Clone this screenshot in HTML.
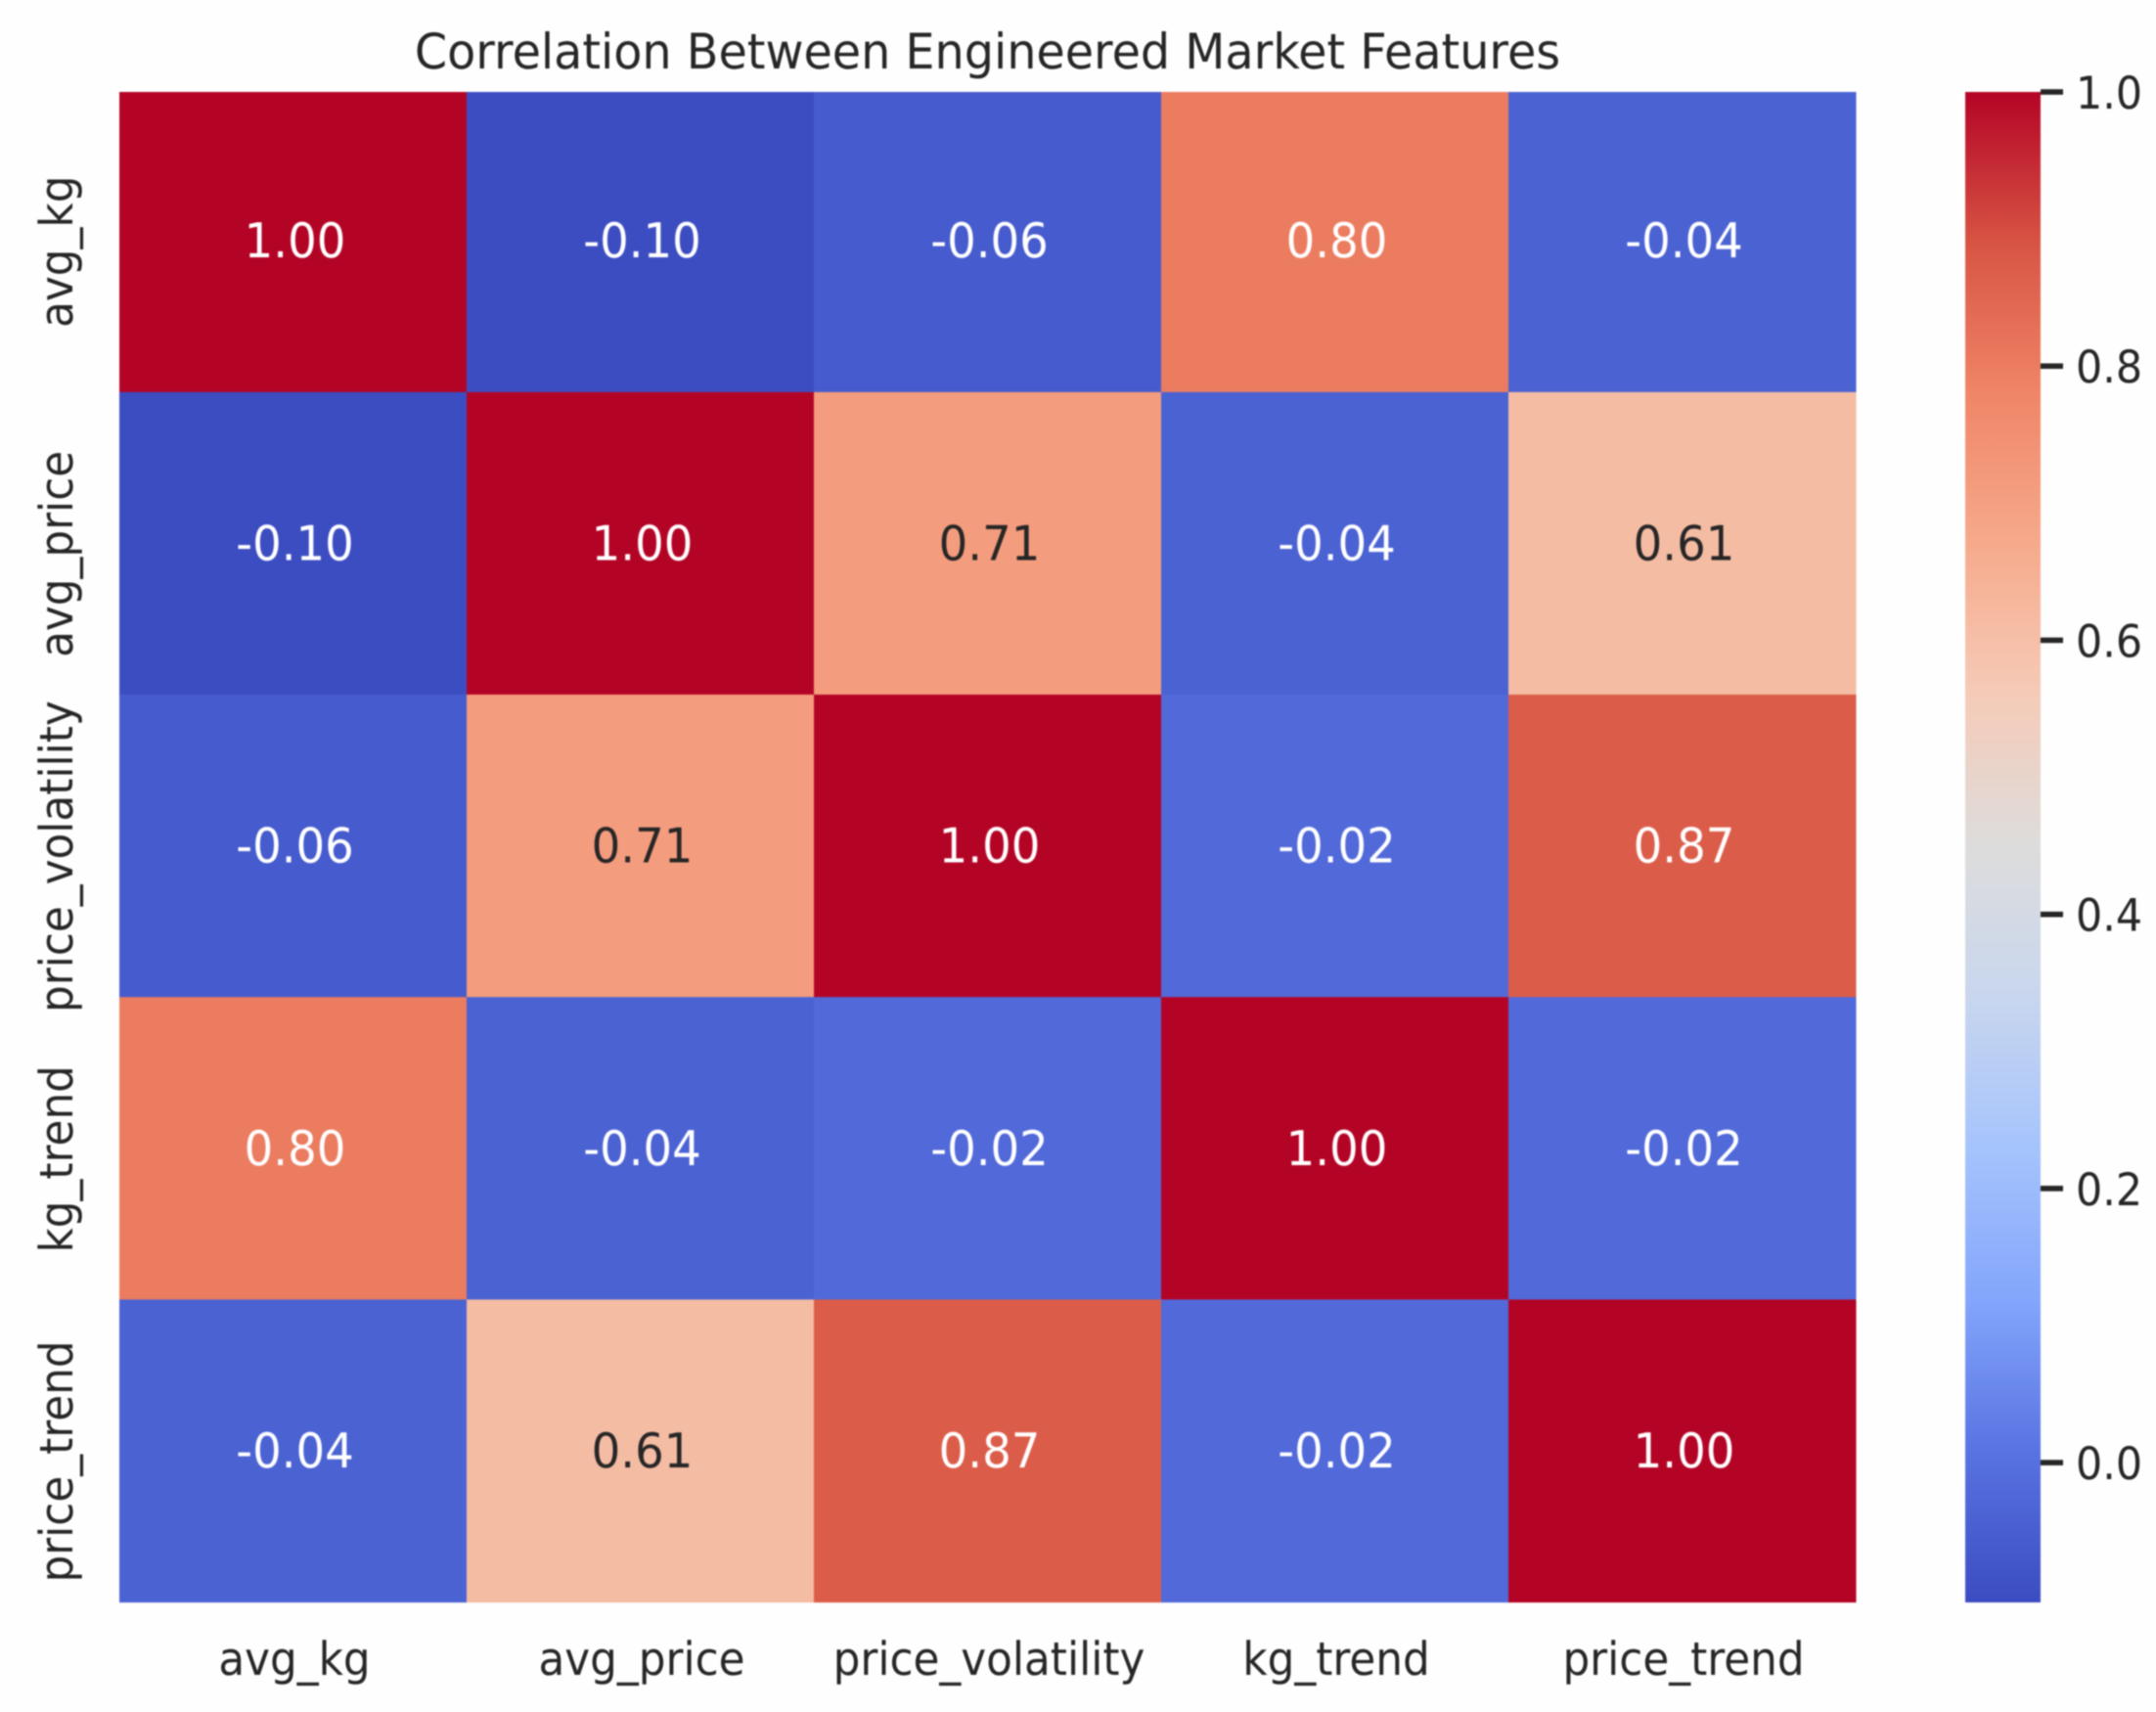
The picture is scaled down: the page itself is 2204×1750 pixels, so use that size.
<!DOCTYPE html>
<html lang="en">
<head>
<meta charset="utf-8">
<title>Correlation Between Engineered Market Features</title>
<style>
html,body{margin:0;padding:0;background:#fefefe;}
#chart{display:block;width:2204px;height:1750px;filter:blur(0.8px);}
text{font-family:"DejaVu Sans","Liberation Sans",sans-serif;fill:#262626;text-rendering:geometricPrecision;}
</style>
</head>
<body>
<svg id="chart" xmlns="http://www.w3.org/2000/svg" width="2204" height="1750" viewBox="0 0 2204 1750">
<defs id="chart-defs"></defs>
<rect x="0" y="0" width="2204" height="1750" fill="#fefefe"></rect>
<text x="0" y="0" transform="translate(1009.5 70) scale(0.953 1)" font-size="50" text-anchor="middle">Correlation Between Engineered Market Features</text>
<g id="cells"></g>
<g id="annotations"></g>
<g id="x-axis"></g>
<g id="y-axis"></g>
<g id="colorbar"></g>
</svg>
<script>
// Chart data
const categories = ["avg_kg", "avg_price", "price_volatility", "kg_trend", "price_trend"];
const rowAvgKg = [1.00, -0.10, -0.06, 0.80, -0.04];
const rowAvgPrice = [-0.10, 1.00, 0.71, -0.04, 0.61];
const rowPriceVolatility = [-0.06, 0.71, 1.00, -0.02, 0.87];
const rowKgTrend = [0.80, -0.04, -0.02, 1.00, -0.02];
const rowPriceTrend = [-0.04, 0.61, 0.87, -0.02, 1.00];
const correlationRows = [rowAvgKg, rowAvgPrice, rowPriceVolatility, rowKgTrend, rowPriceTrend];
const colorbarTicks = [0.0, 0.2, 0.4, 0.6, 0.8, 1.0];
const colorMin = -0.102;
const colorMax = 1.0;

// coolwarm colormap reference colours, evenly spaced
const coolwarm = [
  [59,76,192],[88,115,226],[131,165,251],[165,195,252],[200,214,238],
  [221,220,220],[245,203,184],[246,170,140],[240,133,103],[215,84,67],[180,4,38]
];

const NS = "http://www.w3.org/2000/svg";
const plot = {left: 122, right: 1897, top: 94, bottom: 1638, bandTop: 91.6, bandStep: 309.2};
const bar = {left: 2009, right: 2086, top: 94, bottom: 1638};
const xStep = (plot.right - plot.left) / categories.length;

function xBand(i) { return plot.left + i * xStep; }
function yBand(i) { return plot.bandTop + i * plot.bandStep; }
function xCenter(i) { return xBand(i) + xStep / 2; }
function yCenter(i) { return yBand(i) + plot.bandStep / 2; }
function norm(v) { return Math.min(1, Math.max(0, (v - colorMin) / (colorMax - colorMin))); }
function barY(v) { return bar.bottom - (v - colorMin) / (colorMax - colorMin) * (bar.bottom - bar.top); }
function colorFor(t) {
  const p = t * (coolwarm.length - 1);
  const k = Math.min(coolwarm.length - 2, Math.floor(p));
  const f = p - k;
  const c = coolwarm[k].map(function (a, n) { return Math.round(a + (coolwarm[k + 1][n] - a) * f); });
  return "rgb(" + c.join(",") + ")";
}
function make(tag, parent, props, content) {
  const el = document.createElementNS(NS, tag);
  Object.keys(props).forEach(function (key) { el.setAttribute(key, props[key]); });
  if (content !== undefined) el.textContent = content;
  parent.appendChild(el);
  return el;
}

const cellsGroup = document.getElementById("cells");
const annotationsGroup = document.getElementById("annotations");
const xAxisGroup = document.getElementById("x-axis");
const yAxisGroup = document.getElementById("y-axis");
const colorbarGroup = document.getElementById("colorbar");
const defsNode = document.getElementById("chart-defs");

correlationRows.forEach(function (row, r) {
  row.forEach(function (value, c) {
    const top = Math.max(yBand(r), plot.top);
    const bottom = Math.min(yBand(r + 1), plot.bottom);
    const cell = make("rect", cellsGroup, {
      x: xBand(c), y: top, width: xStep + 0.5, height: bottom - top + 0.5,
      fill: colorFor(norm(value))
    });
    
    

    const t = norm(value);
    const isDark = t > 0.5 && t < 0.78;
    const label = make("text", annotationsGroup, {
      x: 0, y: 0, "font-size": 49, "text-anchor": "middle",
      transform: "translate(" + (xCenter(c) + 2) + " " + (yCenter(r) + 17) + ") scale(0.95 1)",
      style: "fill:" + (isDark ? "#262626" : "#ffffff")
    }, value.toFixed(2));
    
    
  });
});

categories.forEach(function (name, i) {
  const xLabel = make("text", xAxisGroup, {
    x: 0, y: 0, "font-size": 47, "text-anchor": "middle",
    transform: "translate(" + (xCenter(i) + 1.5) + " 1712) scale(0.93 1)"
  }, name);
  
  

  const yLabel = make("text", yAxisGroup, {
    x: 0, y: 0, "font-size": 47, "text-anchor": "middle",
    transform: "translate(74 " + (yCenter(i) + 11) + ") rotate(-90) scale(0.93 1)"
  }, name);
  
  
});

const gradient = make("linearGradient", defsNode, {id: "coolwarm-gradient", x1: 0, y1: 1, x2: 0, y2: 0});
coolwarm.forEach(function (c, i) {
  make("stop", gradient, {offset: i / (coolwarm.length - 1), "stop-color": "rgb(" + c.join(",") + ")"});
});
const colorbarRect = make("rect", colorbarGroup, {
  x: bar.left, y: bar.top, width: bar.right - bar.left, height: bar.bottom - bar.top,
  fill: "url(#coolwarm-gradient)"
});



colorbarTicks.forEach(function (value) {
  const y = barY(value);
  const tick = make("rect", colorbarGroup, {x: bar.right, y: y - 2.8, width: 23, height: 5.6, fill: "#262626"});
  
  

  const tickLabel = make("text", colorbarGroup, {
    x: 0, y: 0, "font-size": 46,
    transform: "translate(2122 " + (y + 17) + ") scale(0.93 1)"
  }, value.toFixed(1));
  
  
});
</script>
</body>
</html>
